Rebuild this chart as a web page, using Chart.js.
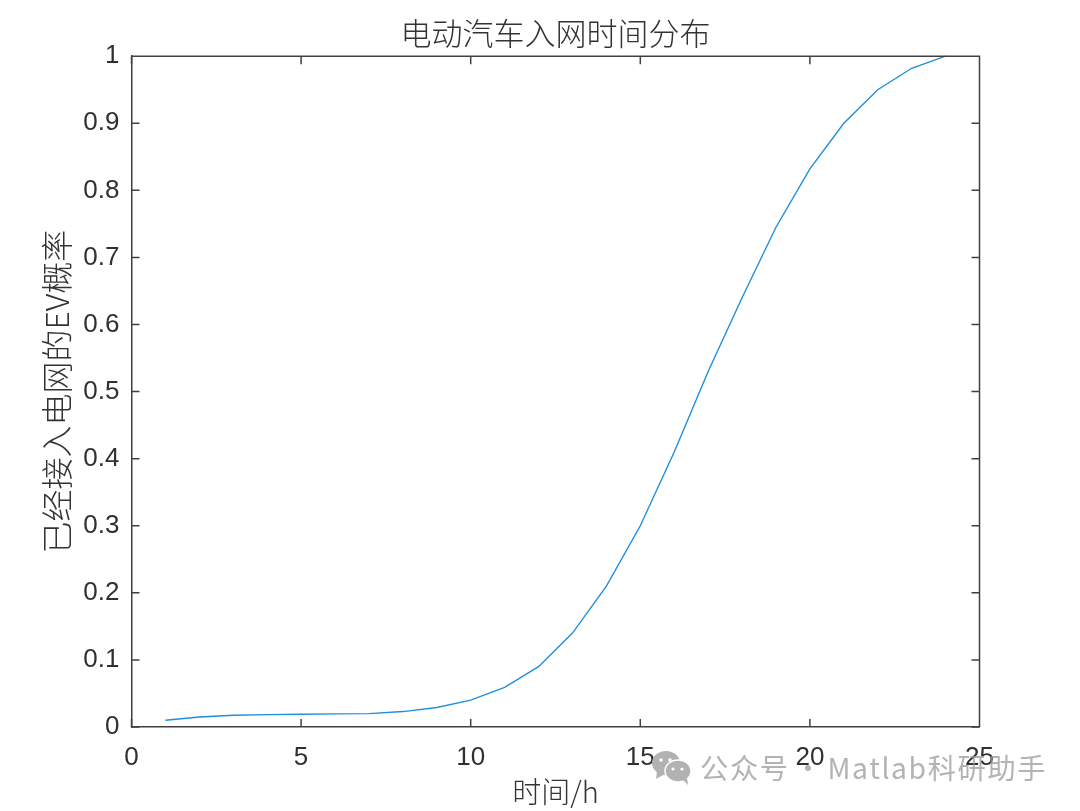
<!DOCTYPE html>
<html>
<head>
<meta charset="utf-8">
<style>
  html, body { margin: 0; padding: 0; background: #fff; }
  #wrap { position: relative; width: 1080px; height: 811px; overflow: hidden; }
  #watermark { position: absolute; left: 700px; top: 748px; font: 28.3px "Noto Sans CJK SC"; letter-spacing: 1.6px; word-spacing: -4px; color: rgba(150,150,150,0.72); white-space: nowrap; line-height: 38px; }
  #wechat { position: absolute; left: 650px; top: 749px; }
</style>
</head>
<body>
<div id="wrap">
  <canvas id="myChart" width="1080" height="811"></canvas>
  <svg id="wechat" width="44" height="36" viewBox="0 0 44 36">
    <ellipse cx="16" cy="14" rx="14" ry="12" fill="#b2b2b2"/>
    <path d="M7 22 L6 30 L15 25 Z" fill="#b2b2b2"/>
    <ellipse cx="28" cy="22" rx="13" ry="11" fill="#b2b2b2" stroke="#fff" stroke-width="1.5"/>
    <path d="M33 31 L38 36 L37 29 Z" fill="#b2b2b2"/>
    <circle cx="11" cy="11" r="1.8" fill="#fff"/><circle cx="20" cy="11" r="1.8" fill="#fff"/>
    <circle cx="23" cy="20" r="1.6" fill="#fff"/><circle cx="32" cy="20" r="1.6" fill="#fff"/>
  </svg>
  <div id="watermark">公众号 · Matlab科研助手</div>
</div>
<script src="https://cdn.jsdelivr.net/npm/chart.js@4"></script>
<script>
var hours = [1, 2, 3, 4, 5, 6, 7, 8, 9, 10, 11, 12, 13, 14, 15, 16, 17, 18, 19, 20, 21, 22, 23, 24];
var probability = [0.01, 0.015, 0.0175, 0.0185, 0.019, 0.0195, 0.02, 0.023, 0.029, 0.04, 0.059, 0.09,
    0.14, 0.21, 0.3, 0.41, 0.53, 0.64, 0.745, 0.832, 0.9, 0.95, 0.982, 1];
var xTicks = [0, 5, 10, 15, 20, 25];
var yTicks = [0, 0.1, 0.2, 0.3, 0.4, 0.5, 0.6, 0.7, 0.8, 0.9, 1];

var axisColor = '#404040';
var textColor = '#303030';
var cjkFont = '"Noto Sans CJK SC", sans-serif';
var tickFont = '"Liberation Sans", Arial, sans-serif';

// MATLAB style box: top and right lines plus inward ticks on all four sides
var boxPlugin = {
    id: 'boxTicks',
    afterDatasetsDraw: function (chart) {
        var c = chart.ctx, a = chart.chartArea, len = 8;
        var x = chart.scales.x, y = chart.scales.y;
        c.save();
        c.strokeStyle = axisColor;
        c.lineWidth = 1.5;
        c.beginPath();
        c.moveTo(a.left, a.top); c.lineTo(a.right, a.top); c.lineTo(a.right, a.bottom);
        xTicks.forEach(function (t) {
            var px = x.getPixelForValue(t);
            c.moveTo(px, a.bottom); c.lineTo(px, a.bottom - len);
            c.moveTo(px, a.top); c.lineTo(px, a.top + len);
        });
        yTicks.forEach(function (t) {
            var py = y.getPixelForValue(t);
            c.moveTo(a.left, py); c.lineTo(a.left + len, py);
            c.moveTo(a.right, py); c.lineTo(a.right - len, py);
        });
        c.stroke();
        c.restore();
    }
};

var ctx = document.getElementById('myChart').getContext('2d');
var myChart = new Chart(ctx, {
    type: 'line',
    data: {
        labels: hours,
        datasets: [{
            data: hours.map(function (h, i) { return { x: h, y: probability[i] }; }),
            borderColor: '#1f8fdc',
            borderWidth: 1.4,
            pointRadius: 0,
            tension: 0,
            fill: false,
            clip: false
        }]
    },
    options: {
        responsive: false,
        animation: false,
        devicePixelRatio: 1,
        layout: { padding: { left: 30, right: 100.5, top: 15, bottom: 2 } },
        plugins: {
            legend: { display: false },
            tooltip: { enabled: false },
            title: {
                display: true,
                fullSize: false,
                text: '电动汽车入网时间分布',
                color: '#333333',
                font: { family: cjkFont, size: 31, weight: '300' },
                padding: { top: 0, bottom: 4 }
            }
        },
        scales: {
            x: {
                type: 'linear',
                min: 0,
                max: 25,
                afterBuildTicks: function (s) { s.ticks = xTicks.map(function (v) { return { value: v }; }); },
                afterFit: function (s) { s.height = 82; },
                grid: { display: false },
                border: { display: true, color: axisColor, width: 1.5 },
                ticks: { color: textColor, font: { family: tickFont, size: 26 }, padding: 7, maxRotation: 0, callback: function (v) { return String(v); } },
                title: { display: true, text: '时间/h', color: '#333333', font: { family: cjkFont, size: 29, weight: '300' }, padding: { top: 1, bottom: 0 } }
            },
            y: {
                type: 'linear',
                min: 0,
                max: 1,
                afterBuildTicks: function (s) { s.ticks = yTicks.map(function (v) { return { value: v }; }); },
                afterFit: function (s) { s.width = 101.5; },
                grid: { display: false },
                border: { display: true, color: axisColor, width: 1.5 },
                ticks: { color: textColor, font: { family: tickFont, size: 26 }, padding: 4, callback: function (v) { return String(v); } },
                title: { display: true, text: '已经接入电网的EV概率', color: '#333333', font: { family: cjkFont, size: 32, weight: '300' }, padding: { top: 8, bottom: 0 } }
            }
        }
    },
    plugins: [boxPlugin]
});
</script>
</body>
</html>
